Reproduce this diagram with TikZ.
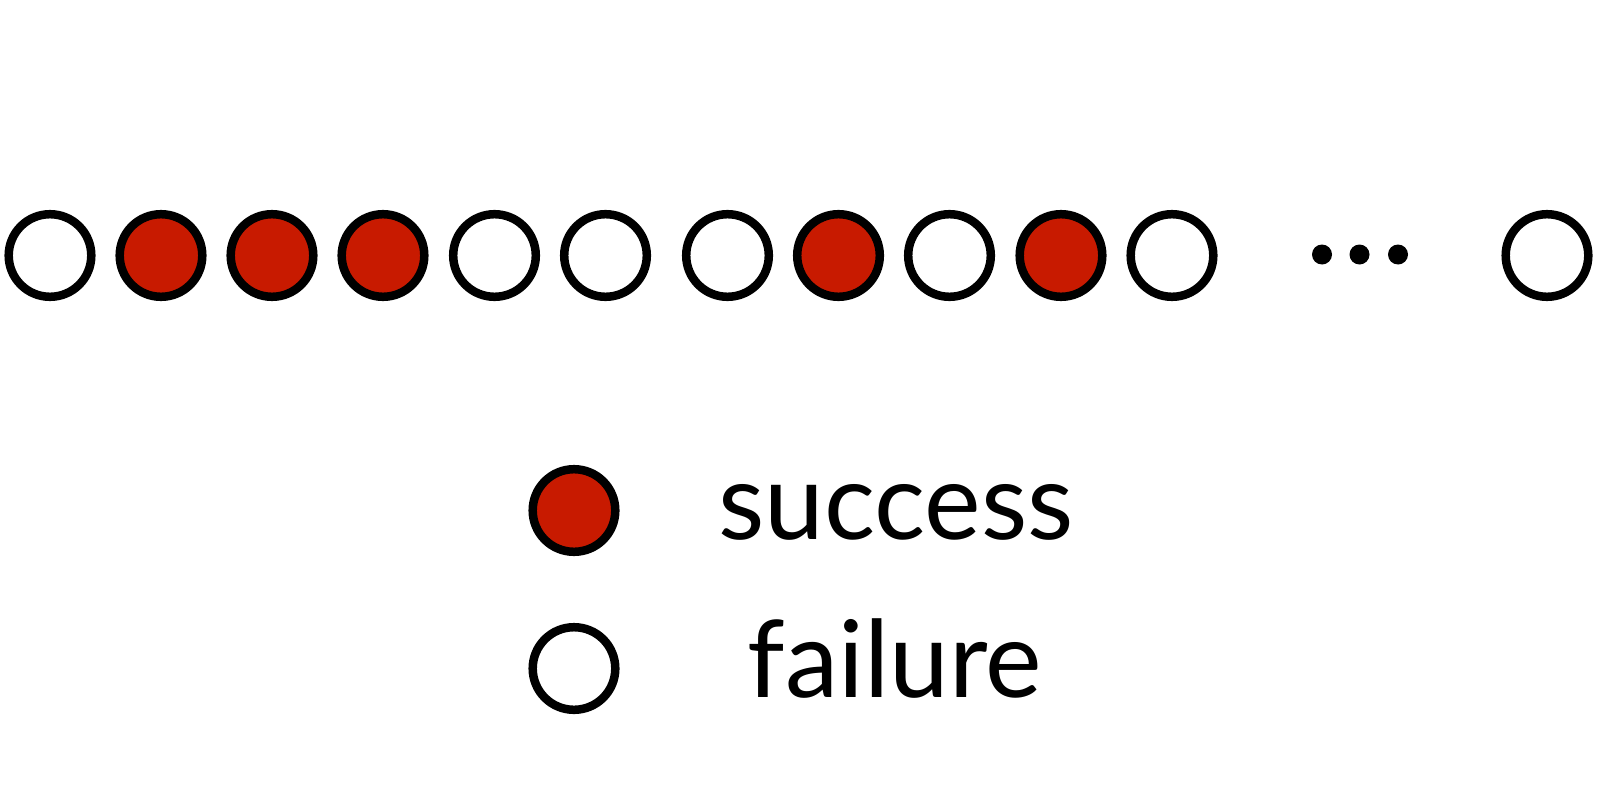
\documentclass[tikz,border=0pt]{standalone}
\usepackage{fontspec}
\setmainfont{Lato}
\definecolor{succred}{RGB}{200,26,0}
\tikzset{
  trial/.style={circle, draw=black, line width=8.5pt, minimum size=82.6pt, inner sep=0pt},
  succ/.style={trial, fill=succred},
  fail/.style={trial, fill=white},
  dotnode/.style={circle, fill=black, minimum size=20pt, inner sep=0pt},
  legendtext/.style={font=\fontsize{107}{120}\selectfont, anchor=base, inner sep=0pt}
}
\begin{document}
\begin{tikzpicture}[x=1pt,y=-1pt]
\useasboundingbox (0,0) rectangle (1598,792);
\foreach \i/\x/\s in {1/50/fail,2/161/succ,3/272/succ,4/383/succ,5/494.5/fail,6/605.5/fail,7/727.5/fail,8/838.5/succ,9/949.5/fail,10/1061/succ,11/1172/fail,12/1547/fail}
  \node[\s] (t\i) at (\x,255.5) {};
\node[dotnode] (d1) at (1322,254.5) {};
\node[dotnode] (d2) at (1359.5,254.5) {};
\node[dotnode] (d3) at (1398,254.5) {};
\node[succ] (ls) at (574,510.5) {};
\node[fail] (lf) at (574,668.5) {};
\node[legendtext] (tsucc) at (896,539) {success};
\node[legendtext] (tfail) at (895,697) {failure};
\end{tikzpicture}
\end{document}
